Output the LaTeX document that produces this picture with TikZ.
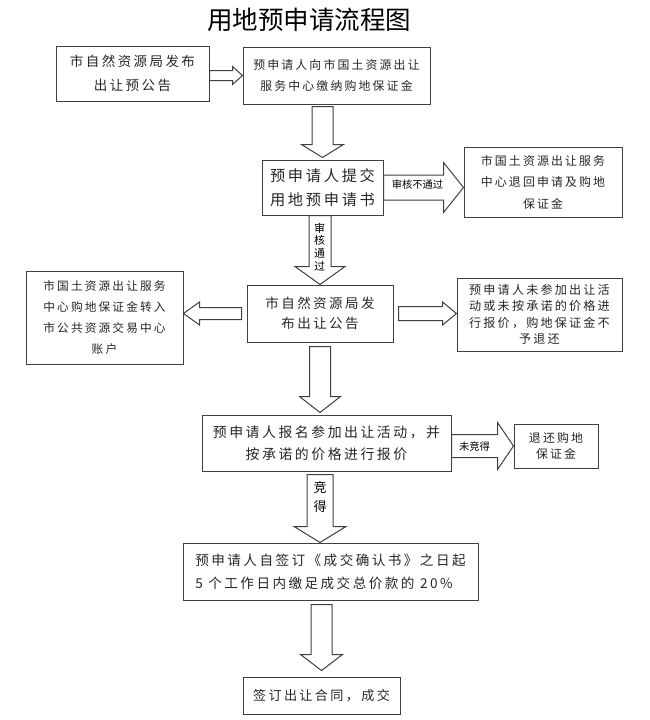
\documentclass[tikz,border=0pt]{standalone}
\usepackage{fontspec}
\usetikzlibrary{calc}
\newfontfamily\cjk[LetterSpace=18]{Noto Sans CJK SC}
\newfontfamily\cjkplain{Noto Sans CJK SC}
\newcommand{\bx}[2]{\cjk\fontsize{#1}{#2}\selectfont}
\newcommand{\lb}[2]{\cjkplain\fontsize{#1}{#2}\selectfont}
\newcommand{\downarr}[5]{%
  \draw[blk] ($(#1)+(-#3,0)$) -- ($(#2)+(-#3,-#5)$) -- ($(#2)+(-#4,-#5)$) -- (#2)
    -- ($(#2)+(#4,-#5)$) -- ($(#2)+(#3,-#5)$) -- ($(#1)+(#3,0)$) -- cycle;}
\newcommand{\sidearr}[5]{%
  \draw[blk] ($(#1)+(0,-#3)$) -- ($(#2)+({-(#5)},-#3)$) -- ($(#2)+({-(#5)},-#4)$) -- (#2)
    -- ($(#2)+({-(#5)},#4)$) -- ($(#2)+({-(#5)},#3)$) -- ($(#1)+(0,#3)$) -- cycle;}

\begin{document}
\begin{tikzpicture}[x=1pt,y=-1pt,
   box/.style={draw=black!75,line width=1pt,align=center,inner sep=0pt,text=black!85},
   blk/.style={draw=black!75,line width=1pt,fill=white},
   lbl/.style={text=black,align=center,inner sep=1pt}]
   \useasboundingbox (0,0) rectangle (650,720);
   \node[font=\lb{25.5}{25}] (title) at (309,20) {用地预申请流程图};

   \node[box,minimum width=153,minimum height=55,font=\bx{13.5}{24}] (pub) at (132.5,73.5)
      {市自然资源局发布\\出让预公告};
   \node[box,minimum width=187,minimum height=57,font=\bx{11.9}{21}] (deposit) at (336.5,75.5)
      {预申请人向市国土资源出让\\服务中心缴纳购地保证金};
   \node[box,minimum width=121,minimum height=55,font=\bx{15.2}{24}] (apply) at (322.5,187.5)
      {预申请人提交\\用地预申请书};
   \node[box,minimum width=158,minimum height=70,font=\bx{11.9}{21.5}] (refund) at (543,182)
      {市国土资源出让服务\\中心退回申请及购地\\保证金};
   \node[box,minimum width=146,minimum height=57,font=\bx{13.5}{20}] (notice) at (320,313.5)
      {市自然资源局发\\布出让公告};
   \node[box,minimum width=157,minimum height=93,font=\bx{11.7}{21}] (transfer) at (104.5,317.5)
      {市国土资源出让服务\\中心购地保证金转入\\市公共资源交易中心\\账户};
   \node[box,minimum width=165,minimum height=73,font=\bx{12.1}{16.5}] (forfeit) at (539.5,314.5)
      {预申请人未参加出让活\\动或未按承诺的价格进\\行报价，购地保证金不\\予退还};
   \node[box,minimum width=249,minimum height=56,font=\bx{13.9}{22}] (bid) at (326.5,443)
      {预申请人报名参加出让活动，并\\按承诺的价格进行报价};
   \node[box,minimum width=84,minimum height=44,font=\bx{11.9}{16}] (back) at (556,446)
      {退还购地\\保证金};
   \node[box,minimum width=295,minimum height=57,font=\bx{13.6}{23},align=left] (pay) at (330.5,571.5)
      {预申请人自签订《成交确认书》之日起\\5 个工作日内缴足成交总价款的 20\%};
   \node[box,minimum width=157,minimum height=37,font=\bx{13.1}{16}] (sign) at (321.5,695.5)
      {签订出让合同，成交};

   \coordinate (axis) at (320,0);
   \sidearr{pub.east |- deposit.west}{deposit.west}{5}{9}{10}
   \downarr{[yshift=-2pt]apply.north |- deposit.south}{[yshift=2pt]apply.north}{10.5}{21}{13}
   \sidearr{apply.east}{refund.west |- apply.east}{12.5}{25}{20}
   \downarr{notice.north |- apply.south}{notice.north}{11}{25}{18}
   \sidearr{[xshift=-5pt]notice.west}{transfer.east |- notice.west}{6}{11.5}{-16}
   \sidearr{[xshift=5pt]notice.east}{forfeit.west |- notice.east}{7}{11.5}{14}
   \downarr{[yshift=-4pt]notice.south}{[yshift=2pt]notice.south |- bid.north}{10.5}{20.5}{16}
   \sidearr{bid.east |- back.west}{back.west}{11.5}{23.5}{16}
   \downarr{[yshift=-3pt]axis |- bid.south}{axis |- pay.north}{13}{26}{16}
   \downarr{[yshift=-4pt]sign.north |- pay.south}{[yshift=6pt]sign.north}{10.5}{21}{16}

   \node[lbl,font=\lb{10.3}{12}] (nopass) at (417.5,184.5) {审核不通过};
   \node[lbl,font=\lb{11}{12.7}] (pass) at (319.5,247) {审\\核\\通\\过};
   \node[lbl,font=\lb{10.3}{12}] (lose) at (474.5,447) {未竞得};
   \node[lbl,font=\lb{13}{19}] (win) at (320,497.5) {竞\\得};
\end{tikzpicture}
\end{document}
